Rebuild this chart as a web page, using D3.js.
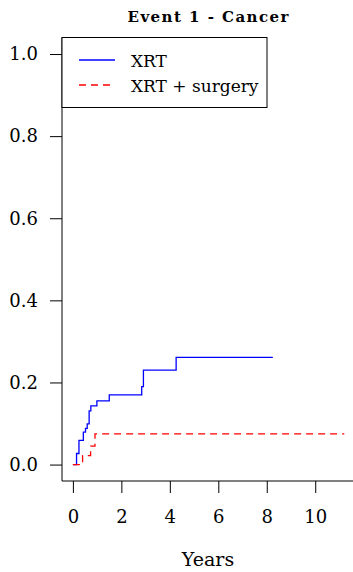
<!DOCTYPE html>
<html>
<head>
<meta charset="utf-8">
<script src="https://cdn.jsdelivr.net/npm/d3@7"></script>
<style>
  body { margin: 0; background: #fff; }
  svg text { font-family: "DejaVu Serif", serif; }
</style>
</head>
<body>
<svg></svg>
<script>
var width = 353, height = 572;

// cumulative incidence, event 1 (cancer)
var xrtTime = [0, 0.15, 0.25, 0.43, 0.52, 0.59, 0.67, 0.74, 0.99, 1.5, 2.84, 2.91, 4.26, 8.25];
var xrtCif  = [0, 0.027, 0.059, 0.079, 0.088, 0.099, 0.131, 0.143, 0.155, 0.17, 0.19, 0.23, 0.261, 0.261];
var surgTime = [0, 0.4, 0.73, 0.91, 11.2];
var surgCif  = [0, 0.022, 0.045, 0.075, 0.075];

var xTicks = [0, 2, 4, 6, 8, 10];
var yTicks = [0, 0.2, 0.4, 0.6, 0.8, 1.0];
var legendLabels = ["XRT", "XRT + surgery"];

var serif = "DejaVu Serif";

var svg = d3.select("svg")
  .attr("width", width)
  .attr("height", height);

var x = d3.scaleLinear().domain([-0.45, 11.6]).range([62, 354]);
var y = d3.scaleLinear().domain([-0.04, 1.04]).range([481, 37.6]);

// title
svg.append("text")
  .attr("x", 208).attr("y", 22)
  .attr("text-anchor", "middle")
  .attr("font-family", serif)
  .attr("font-weight", "bold")
  .attr("font-size", 15)
  .attr("textLength", 161)
  .attr("lengthAdjust", "spacing")
  .text("Event 1 - Cancer");

// L shaped box
svg.append("path")
  .attr("d", "M62,37.6V481H354")
  .attr("fill", "none")
  .attr("stroke", "#000")
  .attr("stroke-width", 1);

var yAxis = svg.append("g")
  .attr("transform", "translate(62,0)")
  .call(d3.axisLeft(y).tickValues(yTicks).tickSize(12).tickPadding(12).tickFormat(d3.format(".1f")));
yAxis.select(".domain").remove();

var xAxis = svg.append("g")
  .attr("transform", "translate(0,481)")
  .call(d3.axisBottom(x).tickValues(xTicks).tickSize(12).tickPadding(17));
xAxis.select(".domain").remove();

svg.selectAll("g").attr("font-family", serif);
svg.selectAll(".tick text")
  .attr("font-family", serif)
  .attr("font-size", 18)
  .attr("fill", "#000");
svg.selectAll(".tick line").attr("stroke", "#000");

svg.append("text")
  .attr("x", 208).attr("y", 566)
  .attr("text-anchor", "middle")
  .attr("font-family", serif)
  .attr("font-size", 19)
  .text("Years");

var line = d3.line()
  .x(function(d) { return x(d[0]); })
  .y(function(d) { return y(d[1]); })
  .curve(d3.curveStepAfter);

svg.append("path")
  .datum(d3.zip(xrtTime, xrtCif))
  .attr("d", line)
  .attr("fill", "none")
  .attr("stroke", "#0000ff")
  .attr("stroke-width", 1.3);

svg.append("path")
  .datum(d3.zip(surgTime, surgCif))
  .attr("d", line)
  .attr("fill", "none")
  .attr("stroke", "#ff0000")
  .attr("stroke-width", 1.3)
  .attr("stroke-dasharray", "7,5");

// legend
var legend = svg.append("g");
legend.append("rect")
  .attr("x", 62).attr("y", 37.5)
  .attr("width", 205).attr("height", 70)
  .attr("fill", "#fff")
  .attr("stroke", "#000");

var colors = ["#0000ff", "#ff0000"];
var dashes = [null, "7,5"];
legendLabels.forEach(function(lab, i) {
  legend.append("line")
    .attr("x1", 79).attr("x2", 115)
    .attr("y1", 60 + i * 25).attr("y2", 60 + i * 25)
    .attr("stroke", colors[i])
    .attr("stroke-width", 1.3)
    .attr("stroke-dasharray", dashes[i]);
  legend.append("text")
    .attr("x", 131).attr("y", 67 + i * 25)
    .attr("font-family", serif)
    .attr("font-size", 17)
    .text(lab);
});
</script>
</body>
</html>
